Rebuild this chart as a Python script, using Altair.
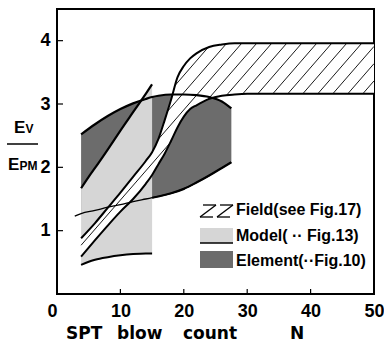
import altair as alt
import pandas as pd

# ---------------- data ----------------
# Field (see Fig.17): band between an upper and a lower boundary
field_n     = [3.8, 6, 8, 10, 12, 14, 15, 16, 17, 18, 19, 20, 21, 22, 24, 26, 28, 30, 35, 40, 50]
field_upper = [0.88, 1.12, 1.36, 1.60, 1.85, 2.10, 2.24, 2.45, 2.75, 3.07, 3.42, 3.60, 3.72, 3.80, 3.90, 3.94, 3.96, 3.96, 3.96, 3.96, 3.96]
field_lower = [0.59, 0.85, 1.08, 1.30, 1.50, 1.74, 1.88, 2.05, 2.22, 2.42, 2.63, 2.80, 2.92, 2.98, 3.08, 3.13, 3.15, 3.16, 3.16, 3.16, 3.16]

# Element (Fig.10)
elem_n   = [3.8, 6, 8, 10, 12, 14, 15, 16, 18, 20, 22, 24, 26, 27.5]
elem_top = [2.52, 2.68, 2.81, 2.92, 3.01, 3.08, 3.11, 3.13, 3.15, 3.15, 3.14, 3.11, 3.04, 2.93]
elem_bot = [1.27, 1.32, 1.37, 1.41, 1.46, 1.50, 1.52, 1.54, 1.59, 1.66, 1.76, 1.87, 1.99, 2.08]
elem_bot_lead_n = [2.8]
elem_bot_lead   = [1.23]

# Model (Fig.13)
model_n   = [3.8, 5, 6, 8, 10, 12, 14, 15]
model_top = [1.67, 1.85, 1.99, 2.28, 2.58, 2.87, 3.16, 3.31]
model_bot = [0.46, 0.51, 0.54, 0.58, 0.61, 0.63, 0.64, 0.64]

x_ticks = [0, 10, 20, 30, 40, 50]
y_ticks = [1, 2, 3, 4]
inner_x_ticks = [10, 20, 30, 40]

legend_labels = ["Field(see Fig.17)", "Model( \u00b7\u00b7 Fig.13)", "Element(\u00b7\u00b7Fig.10)"]
x_title_words = ["SPT", "blow", "count", "N"]

# ---------------- layout / style ----------------
W, H = 317, 285
FONT = "Liberation Sans"
TFONT = "DejaVu Sans"
DARK = "#6c6c6c"
LIGHT = "#d6d6d6"

field_df = pd.DataFrame({"n": field_n, "upper": field_upper, "lower": field_lower})
elem_df = pd.DataFrame({"n": elem_n, "top": elem_top, "bot": elem_bot})
elem_bot_df = pd.DataFrame({"n": elem_bot_lead_n + elem_n, "bot": elem_bot_lead + elem_bot})
elem_bot_right = elem_df[elem_df["n"] >= 15]
model_df = pd.DataFrame({"n": model_n, "top": model_top, "bot": model_bot})

# hatch lines of the field band, clipped to the band polygon
SX, SY = W / 50.0, H / 4.5
poly = [(n * SX, v * SY) for n, v in zip(field_n, field_upper)] + \
       [(n * SX, v * SY) for n, v in zip(field_n[::-1], field_lower[::-1])]
K, STEP, PHASE = 1.15, 15.0, 11.7
rows = []
for j in range(-40, 40):
    x0 = PHASE + STEP * j
    pts = []
    for i in range(len(poly)):
        (x1, y1), (x2, y2) = poly[i], poly[(i + 1) % len(poly)]
        f1 = y1 - K * (x1 - x0)
        f2 = y2 - K * (x2 - x0)
        if (f1 > 0) != (f2 > 0):
            t = f1 / (f1 - f2)
            pts.append((x1 + t * (x2 - x1), y1 + t * (y2 - y1)))
    pts.sort()
    for a, b in zip(pts[0::2], pts[1::2]):
        rows.append({"n": a[0] / SX, "v": a[1] / SY, "n2": b[0] / SX, "v2": b[1] / SY})
hatch_df = pd.DataFrame(rows)

xscale = alt.Scale(domain=[0, 50], nice=False, zero=False)
yscale = alt.Scale(domain=[0, 4.5], nice=False, zero=False)
xaxis = alt.Axis(values=x_ticks, grid=False, domain=False, ticks=False, tickSize=0,
                 labelPadding=8, labelFontSize=18, labelFont=FONT, labelFontWeight="bold",
                 labelColor="black", labelFlush=False,
                 labelAlign={"expr": "datum.value == 0 ? 'right' : 'center'"},
                 title=None)
yaxis = alt.Axis(values=y_ticks, grid=False, domain=False, ticks=False, tickSize=0,
                 labelPadding=7, labelFontSize=18, labelFont=FONT, labelFontWeight="bold",
                 labelColor="black", labelFlush=False, title=None)


def X(field):
    return alt.X(field, type="quantitative", scale=xscale, axis=xaxis)


def Y(field):
    return alt.Y(field, type="quantitative", scale=yscale, axis=yaxis)


one = pd.DataFrame({"k": [0]})

elem_area = alt.Chart(elem_df).mark_area(color=DARK, interpolate="monotone").encode(
    x=X("n"), y=Y("bot"), y2="top")
model_area = alt.Chart(model_df).mark_area(color=LIGHT, interpolate="monotone").encode(
    x=X("n"), y=Y("bot"), y2="top")
field_area = alt.Chart(field_df).mark_area(color="white", interpolate="monotone").encode(
    x=X("n"), y=Y("lower"), y2="upper")
hatch = alt.Chart(hatch_df).mark_rule(color="black", strokeWidth=0.9).encode(
    x=X("n"), y=Y("v"), x2="n2", y2="v2")


def curve(df, field, width):
    return alt.Chart(df).mark_line(color="black", strokeWidth=width, interpolate="monotone").encode(
        x=X("n"), y=Y(field))


lines = [
    curve(field_df, "upper", 2.0),
    curve(field_df, "lower", 2.0),
    curve(elem_df, "top", 2.2),
    curve(elem_bot_df, "bot", 1.3),
    curve(elem_bot_right, "bot", 2.2),
    curve(model_df, "top", 2.2),
    curve(model_df, "bot", 2.0),
]

xt = alt.Chart(pd.DataFrame({"n": inner_x_ticks})).mark_rule(color="black", strokeWidth=1.2).encode(
    x=X("n"), y=alt.value(H), y2=alt.value(H - 5))
yt = alt.Chart(pd.DataFrame({"v": y_ticks})).mark_rule(color="black", strokeWidth=1.2).encode(
    y=Y("v"), x=alt.value(0), x2=alt.value(6))

OX, OY = 57, 9  # plot origin inside the page


def seg(x1, y1, x2, y2, w=1.3):
    return alt.Chart(one).mark_rule(color="black", strokeWidth=w).encode(
        x=alt.value(x1 - OX), y=alt.value(y1 - OY), x2=alt.value(x2 - OX), y2=alt.value(y2 - OY))


def box(x1, y1, x2, y2, c):
    return alt.Chart(one).mark_rect(color=c).encode(
        x=alt.value(x1 - OX), y=alt.value(y1 - OY), x2=alt.value(x2 - OX), y2=alt.value(y2 - OY))


def txt(s, x, y, size, align="left", baseline="alphabetic", font=FONT):
    return alt.Chart(one).mark_text(text=s, font=font, fontSize=size, fontWeight="bold",
                                    color="black", align=align, baseline=baseline).encode(
        x=alt.value(x - OX), y=alt.value(y - OY))


legend = [
    # ZZ swatch (field)
    seg(203, 205, 216, 205), seg(216, 205, 200, 217), seg(200, 217, 213, 217),
    seg(220, 205, 233, 205), seg(233, 205, 217, 217), seg(217, 217, 230, 217),
    box(200, 228, 233, 243, LIGHT), seg(200, 243, 233, 243, 1.5),
    box(200, 251, 233, 268, DARK),
    txt(legend_labels[0], 236, 210, 16, baseline="middle"),
    txt(legend_labels[1], 236, 236, 16, baseline="middle"),
    txt(legend_labels[2], 236, 261, 16, baseline="middle"),
]

ytitle = [
    txt("E", 14, 133, 17), txt("V", 25.5, 133, 12),
    seg(7, 144, 38, 144, 1.5),
    txt("E", 8, 169.5, 17), txt("PM", 19.5, 169.5, 12),
]

xtitle = [txt(w, x, 339, 17, font=TFONT)
          for w, x in zip(x_title_words, [66, 117, 183, 290])]

chart = alt.layer(elem_area, model_area, field_area, hatch, *lines, xt, yt,
                  *legend, *ytitle, *xtitle).properties(
    width=W, height=H,
    autosize=alt.AutoSizeParams(type="none"),
    padding={"left": OX, "top": OY, "right": 384 - OX - W, "bottom": 343 - OY - H},
    background="white",
).configure_view(stroke="black", strokeWidth=2)

chart.save("out.html", embed_options={"renderer": "svg", "actions": False})
